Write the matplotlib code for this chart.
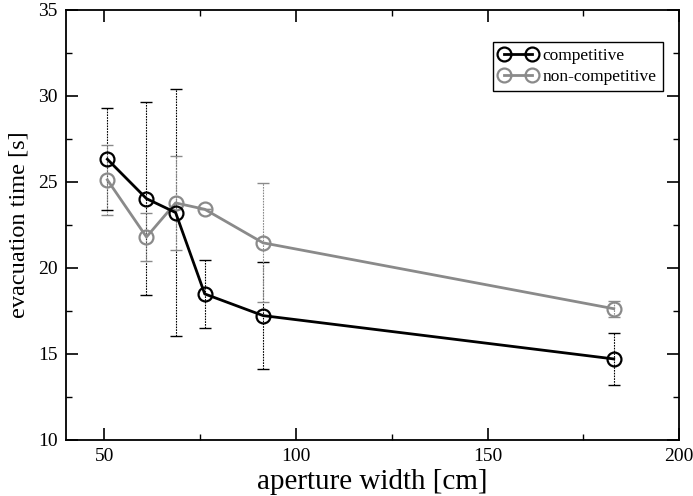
import matplotlib.pyplot as plt
from matplotlib.ticker import MultipleLocator

plt.rcParams['font.family'] = ['Liberation Serif', 'DejaVu Serif']

# aperture widths [cm]
width = [50.8, 61.0, 68.6, 76.2, 91.4, 182.9]

# competitive
comp_mean = [26.32, 24.03, 23.22, 18.49, 17.23, 14.71]
comp_err = [2.97, 5.61, 7.17, 1.96, 3.12, 1.51]

# non-competitive
noncomp_mean = [25.12, 21.80, 23.78, 23.41, 21.46, 17.63]
noncomp_err = [2.03, 1.42, 2.75, 0.0, 3.46, 0.47]

grey = '#8a8a8a'

fig = plt.figure(figsize=(6.93, 4.96), dpi=100)
ax = fig.add_axes([0.0952, 0.113, 0.885, 0.867])

# error bars first (dotted), then lines with open circles
for mean, err, col in [(comp_mean, comp_err, 'black'), (noncomp_mean, noncomp_err, grey)]:
    eb = ax.errorbar(width, mean, yerr=err, fmt='none', ecolor=col, elinewidth=0.8,
                     capsize=4.5, capthick=1.0, zorder=2)
    eb[2][0].set_linestyle((0, (1.5, 1.0)))

ax.plot(width, comp_mean, color='black', lw=2, marker='o', ms=10, mfc='none',
        mew=1.6, label='competitive', zorder=4)
ax.plot(width, noncomp_mean, color=grey, lw=2, marker='o', ms=10, mfc='none',
        mew=1.6, label='non-competitive', zorder=3)

ax.set_xlim(40, 200)
ax.set_ylim(10, 35)
ax.xaxis.set_major_locator(MultipleLocator(50))
ax.xaxis.set_minor_locator(MultipleLocator(25))
ax.yaxis.set_major_locator(MultipleLocator(5))
ax.yaxis.set_minor_locator(MultipleLocator(2.5))
ax.tick_params(which='both', direction='in', top=True, right=True, labelsize=14)
ax.tick_params(which='major', length=8.5, width=1.2, pad=6)
ax.tick_params(which='minor', length=4.5, width=1.0)
for s in ax.spines.values():
    s.set_linewidth(1.3)

ax.set_xlabel('aperture width [cm]', fontsize=21, labelpad=3)
ax.set_ylabel('evacuation time [s]', fontsize=17.5, labelpad=6)

leg = ax.legend(loc='upper right', bbox_to_anchor=(0.973, 0.925), borderaxespad=0,
                numpoints=2, fontsize=12.5, fancybox=False, edgecolor='black',
                framealpha=1, handlelength=2.2, handletextpad=0.3, borderpad=0.35,
                labelspacing=0.25)
leg.get_frame().set_linewidth(1.0)

fig.savefig('out.png', dpi=100)
